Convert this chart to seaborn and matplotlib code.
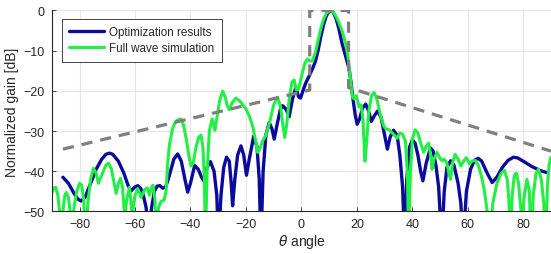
import numpy as np
import pandas as pd
import matplotlib
matplotlib.use('Agg')
import matplotlib.pyplot as plt
import seaborn as sns

# angles (deg) and normalized gain (dB)
opt_theta = [-86, -84, -82, -80.5, -79.4, -78, -76, -74, -72, -70.5, -69.2, -68, -66, -64, -62.5,
             -61.4, -60.2, -59, -58, -57, -56, -55, -54, -53, -52, -51, -50, -49, -48, -47, -46,
             -44.6, -43.3, -42, -41, -40, -38.5, -37.2, -36, -35.3, -34, -32.8, -31.5, -30.5, -29.9,
             -29, -28, -27, -26, -25.3, -24.8, -24, -23, -21.8, -20.8, -19.8, -18.8, -17.2, -16,
             -15.2, -14.6, -13.8, -12.8, -11.6, -10.6, -9.8, -8.8, -7.6, -6.8, -5.6, -4.4, -3.2, -2,
             -1, -0.3, 0.8, 1.6, 2.8, 4, 5, 6, 7, 8, 9, 10, 10.6, 11.5, 12.5, 13.5, 14.7, 16, 17.2,
             18, 18.6, 19.4, 20.1, 21, 22, 23.2, 24.2, 25.2, 26.3, 27.5, 28.7, 30, 31, 32, 33.2, 34.5,
             35.5, 36.5, 37.2, 38, 39, 40, 41, 42, 43, 43.8, 45, 46.5, 47.5, 48.5, 49.5, 50.6, 51.5,
             52.5, 53.8, 55, 56.5, 57.5, 58.3, 59.5, 61, 62.5, 63.8, 65, 67, 68.8, 70.5, 72.5, 74.5,
             76.5, 78, 80, 83, 86, 88.3]
opt_gain = [-41.5, -43, -45.5, -47, -47.4, -46.5, -43, -39.5, -37, -35.8, -35.5, -35.8, -37.5, -40.5,
            -43.5, -44.9, -44, -43.6, -44.2, -46, -49, -56, -49, -45, -43.7, -43.6, -44.2, -44, -42,
            -39.5, -37, -35.7, -37.5, -42, -45.2, -43, -38.6, -39.5, -41.5, -42.3, -39, -37.6, -40,
            -46, -58, -46, -39, -36.5, -37.5, -43, -48.6, -42, -36, -33.7, -36, -41, -37, -31.3, -34,
            -42, -58, -40, -31, -27.9, -29.5, -32, -28.5, -24.7, -23.7, -24.5, -26.4, -22, -19.2,
            -21.5, -21.8, -19.5, -18, -16.3, -14.5, -12.8, -10, -6.5, -3.5, -1.3, -0.2, 0, -0.5, -2,
            -4.5, -8.3, -11.5, -14.5, -18.5, -22, -26, -28.3, -27, -24.3, -23.3, -25, -27.6, -26.2,
            -25, -26.5, -31, -34.5, -31.5, -29.8, -31, -36, -44, -58, -42, -34, -32.2, -33, -36, -40,
            -42.4, -38, -34.2, -35, -38.5, -44, -58, -45, -39, -37.4, -38.5, -43, -48, -58, -45,
            -39.5, -37.2, -36.8, -37.5, -40.5, -42.8, -41.5, -39, -37.3, -36.5, -36.7, -37.5, -38.8,
            -39.8, -40.3]

fw_theta = [-90, -89.4, -88.6, -87.8, -87.2, -86.8, -86, -85.3, -84.8, -84, -83.4, -83, -82, -81, -80,
            -79.2, -78.5, -77.8, -77, -76, -75, -74, -73.2, -72, -70.5, -69.5, -68.5, -67.5, -66.8,
            -66, -65.2, -64.5, -64, -63.6, -63, -62, -61, -60, -59, -57.8, -56.5, -55.5, -54.8, -54,
            -53.5, -52.8, -52.3, -51.5, -50.6, -49.5, -48.8, -48.2, -47.6, -46.5, -45.5, -44.5,
            -43.4, -42.5, -41.5, -40.5, -39.8, -39, -38, -37, -36.2, -35.5, -35, -34.6, -34, -33.2,
            -32.2, -31.6, -31.2, -30.4, -29.5, -28.4, -27.5, -26.8, -26, -25, -23.6, -22, -20, -18.8,
            -17.5, -16.5, -15.8, -15, -14, -12.8, -11.5, -10, -8.6, -7.5, -6.8, -6, -5.3, -4.4, -3.4,
            -2.6, -1.8, -1, 0.4, 1.3, 2.2, 3.1, 4, 5, 6, 7, 8, 9, 10.3, 11.5, 12.5, 13.5, 14.5, 15.3,
            16, 16.8, 17.8, 18.4, 19, 19.8, 20.8, 21.5, 22.2, 22.9, 23.5, 24.3, 25.3, 26.2, 27.2,
            28.5, 29.7, 30.5, 31.5, 32.5, 33.5, 34.5, 35.5, 36.5, 37.5, 38.2, 38.7, 39.3, 40, 41,
            42, 43, 44.1, 45, 45.9, 46.6, 47.1, 47.8, 48.9, 50, 50.7, 51.5, 52.5, 53.3, 53.8, 54.5,
            55.4, 56.5, 57.5, 58.5, 59.5, 60.6, 61.5, 62.7, 63.8, 65, 66, 67, 67.8, 69, 70.5, 72,
            73.2, 74.2, 74.8, 75.4, 76, 76.8, 77.5, 78.3, 79.2, 79.6, 80.2, 81.3, 82.2, 82.8, 83.6,
            84.6, 85.5, 86.5, 87.4, 88, 88.7, 89.3, 90]
fw_gain = [-45.5, -44.3, -44, -46, -50, -58, -50, -46, -45.3, -46.5, -50, -58, -49, -45, -43, -43.5,
           -47, -58, -48, -42, -39.3, -40.5, -43, -41, -38.5, -38, -39.5, -43, -45.5, -43, -41.8,
           -44, -49, -51, -47, -44, -51, -46, -44.3, -46.5, -44.5, -44.2, -46, -44, -43.5, -47, -58,
           -49, -47.5, -47.2, -45, -38, -33.5, -29.5, -27.8, -27.2, -27, -28.5, -32, -36.5, -38.7,
           -38, -34, -31.5, -31, -34, -42, -58, -40, -30, -27, -28.5, -29.8, -26.5, -22.5, -20.1,
           -21.5, -23.5, -24.7, -23, -21.8, -22.7, -24.5, -26.2, -29, -32.5, -35.3, -34.5, -32.5,
           -31, -28, -23.5, -21.6, -24, -28, -31.6, -28.5, -22, -17.8, -17.3, -19.8, -19.5, -15.4,
           -13, -12.1, -12.6, -12.5, -10.5, -7.5, -4.5, -2.2, -0.7, 0, -0.4, -1.5, -3, -4.8, -6.5,
           -8.5, -11.5, -17.9, -21.5, -22, -21.2, -24, -23.5, -27, -37.5, -33, -25, -21.2, -20.4,
           -22, -26, -28.8, -29.5, -29.6, -30.3, -31, -31.8, -30.5, -30.8, -32.5, -40, -58, -40,
           -32, -29.7, -30.5, -33, -35.3, -33.8, -33, -36, -39.5, -37, -35.3, -36.8, -37.4, -37,
           -38, -41, -42, -38, -35.8, -37, -38.7, -37.5, -36.6, -38.2, -37.5, -37.3, -38.5, -41.5,
           -45, -50, -58, -48, -43, -40.5, -39.8, -42, -47, -58, -46, -41, -40.5, -43, -50, -58,
           -47, -42, -45, -58, -46, -40.5, -39.5, -42, -48, -58, -44, -38.5, -36.5]

mask_theta = [-86, 3, 3, 17, 17, 90]
mask_gain = [-34.5, -19.8, 0, 0, -19.2, -35]

x_ticks = [-80, -60, -40, -20, 0, 20, 40, 60, 80]
y_ticks = [-50, -40, -30, -20, -10, 0]


def main():
    sns.set_style("whitegrid")
    plt.rcParams['font.family'] = ['Liberation Sans', 'DejaVu Sans']

    fig = plt.figure(figsize=(5.51, 2.55), dpi=100)
    ax = fig.add_axes([0.094, 0.167, 0.906, 0.788])

    sns.lineplot(x=opt_theta, y=opt_gain, ax=ax, color='#0a0a9c', lw=2.4,
                 sort=False, estimator=None, label='Optimization results')
    sns.lineplot(x=fw_theta, y=fw_gain, ax=ax, color='#22ee44', lw=2.2,
                 sort=False, estimator=None, label='Full wave simulation')
    sns.lineplot(x=mask_theta, y=mask_gain, ax=ax, color='#7f7f7f', lw=2.3,
                 sort=False, estimator=None, linestyle=(0, (3.5, 2.5)), legend=False)

    ax.set_xlim(-90, 90)
    ax.set_ylim(-50, 0)
    ax.set_xticks(x_ticks)
    ax.set_yticks(y_ticks)
    ax.grid(True, color='#e6e6e6', lw=0.8)
    for s in ['top', 'right']:
        ax.spines[s].set_visible(False)
    for s in ['left', 'bottom']:
        ax.spines[s].set_color('#262626')
        ax.spines[s].set_linewidth(0.8)
    ax.tick_params(direction='in', length=3, width=0.6, colors='#262626',
                   labelsize=9, pad=5, left=True, bottom=True)

    ax.set_xlabel(r'$\theta$ angle', fontsize=10, color='#262626', labelpad=1)
    ax.set_ylabel('Normalized gain [dB]', fontsize=10, color='#262626', labelpad=3)

    leg = ax.legend(loc='upper left', bbox_to_anchor=(0.02, 0.958), fontsize=8.4,
                    frameon=True, fancybox=False, framealpha=1, edgecolor='#262626',
                    handlelength=3.0, handletextpad=0.4, borderpad=0.65,
                    labelspacing=0.3, borderaxespad=0.0)
    leg.get_frame().set_linewidth(0.6)

    fig.savefig('out.png', dpi=100)


if __name__ == "__main__":
    main()
